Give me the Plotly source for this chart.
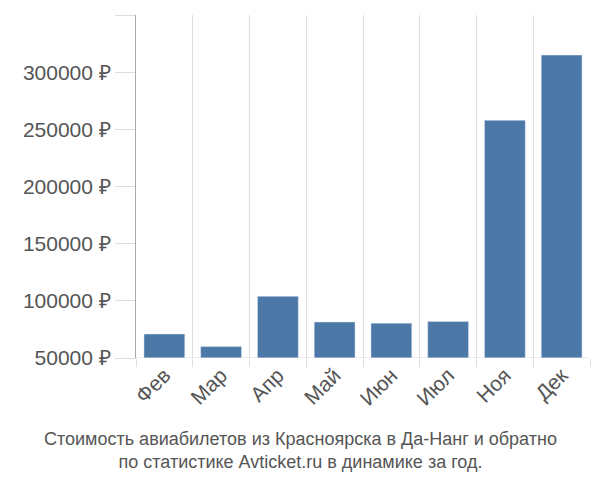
import plotly.graph_objects as go

months = ["Фев", "Мар", "Апр", "Май", "Июн", "Июл", "Ноя", "Дек"]
prices = [71000, 60000, 104000, 81500, 80500, 82000, 258000, 315000]
yticks = [50000, 100000, 150000, 200000, 250000, 300000, 350000]
ytext = [f"{v} ₽" for v in yticks]

fig = go.Figure(go.Bar(x=months, y=prices, marker_color="#4c78a8", width=0.72))
fig.update_layout(
    width=584, height=484, plot_bgcolor="white", paper_bgcolor="white",
    margin=dict(l=128, r=2, t=7, b=134), showlegend=False,
    font=dict(family="Liberation Sans, Arial", size=21, color="#555555"),
    xaxis=dict(tickangle=-45, showgrid=True, gridcolor="#dddddd", tickson="boundaries",
               ticks="outside", ticklen=8, tickcolor="#dddddd", showline=False),
    yaxis=dict(range=[50000, 350000], tickvals=yticks, ticktext=ytext, showgrid=False,
               zeroline=False, showline=True, linecolor="#aaaaaa",
               ticks="outside", ticklen=20, tickcolor="#dddddd"),
    shapes=[dict(type="line", xref="paper", yref="y", x0=0, x1=1, y0=50000, y1=50000,
                 line=dict(color="#dddddd", width=1))],
    annotations=[dict(text="Стоимость авиабилетов из Красноярска в Да-Нанг и обратно<br>по статистике Avticket.ru в динамике за год.",
                      xref="paper", yref="paper", x=(300-136)/454, xanchor="center",
                      y=-0.2, yanchor="top", showarrow=False,
                      font=dict(size=18, color="#555555"))],
)
fig.write_html("out.html")
